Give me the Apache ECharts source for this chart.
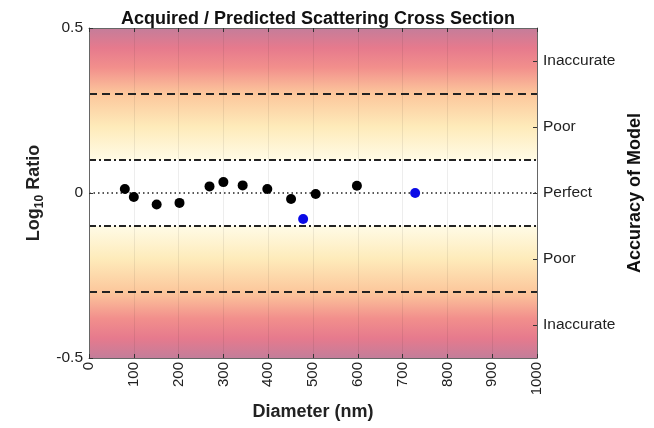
<!DOCTYPE html>
<html><head><meta charset="utf-8">
<script src="https://cdn.jsdelivr.net/npm/echarts@6/dist/echarts.min.js"></script>
<style>html,body{margin:0;padding:0;background:#fff}#c{width:654px;height:428px}</style>
</head><body><div id="c"></div>
<script>
const xTicks = [0,100,200,300,400,500,600,700,800,900,1000];
const leftTicks = [-0.5, 0, 0.5];
const accuracyTicks = [-0.4, -0.2, 0, 0.2, 0.4];
const accuracyLabels = ['Inaccurate','Poor','Perfect','Poor','Inaccurate'];
const blackX = [80, 100, 151, 202, 269, 300, 343, 398, 451, 506, 598];
const blackY = [0.012, -0.012, -0.035, -0.030, 0.020, 0.033, 0.023, 0.012, -0.018, -0.003, 0.022];
const blueX = [478, 728];
const blueY = [-0.079, 0.0];
const poorBound = 0.1;
const inaccurateBound = 0.3;

const font = 'Liberation Sans, Arial, Helvetica, sans-serif';
const topGrad = new echarts.graphic.LinearGradient(0,0,0,1,[
  {offset:0,color:'#c47d9a'},{offset:0.15,color:'#e67a8d'},{offset:0.3,color:'#f28f8c'},
  {offset:0.5,color:'#fcc79c'},{offset:0.75,color:'#feebba'},{offset:1,color:'#fffbe6'}]);
const botGrad = new echarts.graphic.LinearGradient(0,0,0,1,[
  {offset:0,color:'#fffbe6'},{offset:0.25,color:'#feebba'},{offset:0.5,color:'#fcc79c'},
  {offset:0.7,color:'#f28f8c'},{offset:0.85,color:'#e67a8d'},{offset:1,color:'#c47d9a'}]);

const chart = echarts.init(document.getElementById('c'));
const tickStyle = {show:true, inside:true, length:4, lineStyle:{color:'#333'}};
const lineStyle = {show:true, onZero:false, lineStyle:{color:'#666'}};
chart.setOption({
  animation:false,
  textStyle:{fontFamily:font},
  title:{text:'Acquired / Predicted Scattering Cross Section', left:313, textAlign:'center', top:5,
    textStyle:{fontFamily:font, fontSize:18, fontWeight:'bold', color:'#111'}},
  grid:{left:89, right:117, top:28, bottom:70, containLabel:false, outerBoundsMode:'none'},
  xAxis:[{type:'value', min:0, max:1000, interval:100, z:5,
      name:'Diameter (nm)', nameLocation:'middle', nameGap:45,
      nameTextStyle:{fontFamily:font, fontSize:18, fontWeight:'bold', color:'#222'},
      axisLine:lineStyle, axisTick:tickStyle,
      axisLabel:{rotate:90, fontSize:15, color:'#222', margin:4, fontFamily:font,
        formatter:v => String(v)},
      splitLine:{show:true, lineStyle:{color:'rgba(0,0,0,0.07)', width:1}}},
    {type:'value', min:0, max:1000, interval:100, position:'top', z:5,
      axisLine:lineStyle, axisTick:tickStyle,
      axisLabel:{show:false}, splitLine:{show:false}}],
  yAxis:[{type:'value', min:-0.5, max:0.5, interval:0.5, position:'left', z:5,
      name:'{a|Log}{b|10}{a| Ratio}', nameLocation:'middle', nameGap:42, nameRotate:90,
      nameTextStyle:{rich:{a:{fontFamily:font, fontSize:18, fontWeight:'bold', color:'#222'},
        b:{fontFamily:font, fontSize:12, fontWeight:'bold', color:'#222', verticalAlign:'bottom', padding:[10,0,0,0]}}},
      axisLine:lineStyle, axisTick:tickStyle,
      axisLabel:{fontSize:15.5, color:'#222', margin:6, fontFamily:font,
        formatter:v => v===0 ? '0' : String(v)},
      splitLine:{show:false}},
    {type:'value', min:-0.5, max:0.5, position:'right', z:5,
      name:'Accuracy of Model', nameLocation:'middle', nameGap:86, nameRotate:90,
      nameTextStyle:{fontFamily:font, fontSize:18, fontWeight:'bold', color:'#111'},
      axisLine:lineStyle,
      axisTick:{show:true, inside:true, length:4, lineStyle:{color:'#333'}, customValues:accuracyTicks},
      axisLabel:{fontSize:15.5, color:'#222', margin:6, fontFamily:font, customValues:accuracyTicks,
        formatter:v => { const i = accuracyTicks.findIndex(t => Math.abs(t-v)<1e-6); return i>=0 ? accuracyLabels[i] : ''; }},
      splitLine:{show:false}}],
  series:[
    {type:'scatter', data:[], z:1, silent:true,
      markArea:{silent:true, data:[
        [{yAxis:poorBound, itemStyle:{color:topGrad}},{yAxis:0.5}],
        [{yAxis:-0.5, itemStyle:{color:botGrad}},{yAxis:-poorBound}]]},
      markLine:{silent:true, symbol:'none', label:{show:false}, data:[
        {yAxis:inaccurateBound, lineStyle:{color:'#222', width:2, type:[8,5]}},
        {yAxis:-inaccurateBound, lineStyle:{color:'#222', width:2, type:[8,5]}},
        {yAxis:poorBound, lineStyle:{color:'#222', width:2, type:[7,3,2,3]}},
        {yAxis:-poorBound, lineStyle:{color:'#222', width:2, type:[7,3,2,3]}},
        {yAxis:0, lineStyle:{color:'#222', width:1.5, type:[1.5,3]}}]}},
    {type:'scatter', z:10, symbolSize:10, itemStyle:{color:'#000', opacity:1},
      data:blackX.map((x,i)=>[x, blackY[i]])},
    {type:'scatter', z:10, symbolSize:10, itemStyle:{color:'#0a0ae6', opacity:1},
      data:blueX.map((x,i)=>[x, blueY[i]])}
  ]
});
</script></body></html>
